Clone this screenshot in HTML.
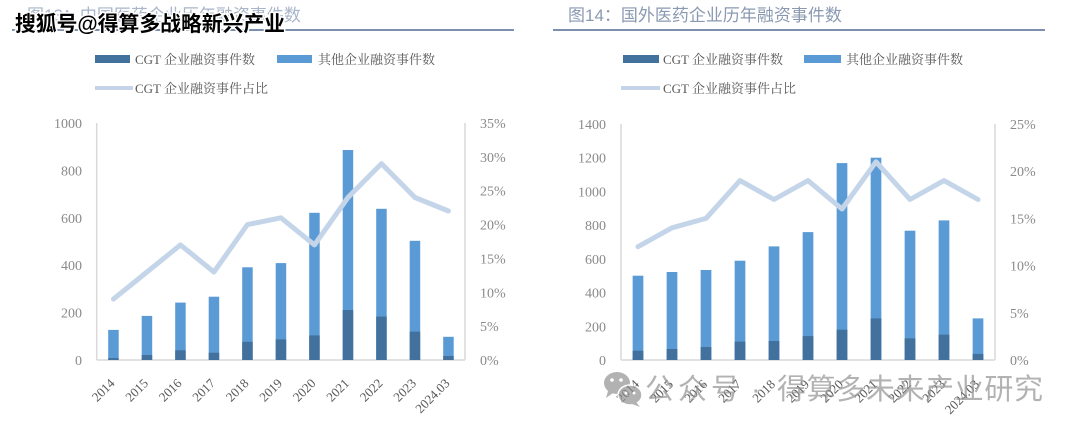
<!DOCTYPE html>
<html>
<head>
<meta charset="utf-8">
<style>
html,body{margin:0;padding:0;background:#fff;}
body{width:1080px;height:431px;overflow:hidden;}
svg{display:block;}
.tick{font-family:"Liberation Serif","Noto Serif CJK SC",serif;font-size:14px;fill:#8a8a8a;}
.xl{font-family:"Liberation Serif","Noto Serif CJK SC",serif;font-size:13px;fill:#595959;}
.lg{font-family:"Liberation Serif","Noto Serif CJK SC",serif;font-size:13px;fill:#595959;}
.ttl{font-family:"Liberation Sans","Noto Sans CJK SC",sans-serif;font-size:17px;fill:#8a99b2;}
</style>
</head>
<body>
<svg width="1080" height="431" viewBox="0 0 1080 431" xmlns="http://www.w3.org/2000/svg">
<rect width="1080" height="431" fill="#fff"/>

<!-- ===== Titles & rules ===== -->
<text class="ttl" x="27" y="21" style="fill:#a9b5c8">图13：中国医药企业历年融资事件数</text>
<line x1="12" y1="30" x2="514" y2="30" stroke="#7d8fae" stroke-width="2"/>
<text class="ttl" x="568" y="21">图14：国外医药企业历年融资事件数</text>
<line x1="553" y1="30" x2="1045" y2="30" stroke="#7d8fae" stroke-width="2"/>

<!-- ===== Left legend ===== -->
<rect x="95" y="55" width="35" height="8" fill="#41719c"/>
<text class="lg" x="135" y="64">CGT 企业融资事件数</text>
<rect x="277" y="55" width="35" height="8" fill="#5b9bd5"/>
<text class="lg" x="318" y="64">其他企业融资事件数</text>
<line x1="95" y1="88" x2="133" y2="88" stroke="#c5d5e9" stroke-width="4"/>
<text class="lg" x="135" y="93">CGT 企业融资事件占比</text>

<!-- ===== Right legend ===== -->
<rect x="623" y="55" width="36" height="8" fill="#41719c"/>
<text class="lg" x="663" y="64">CGT 企业融资事件数</text>
<rect x="804" y="55" width="37" height="8" fill="#5b9bd5"/>
<text class="lg" x="846" y="64">其他企业融资事件数</text>
<line x1="621" y1="88" x2="660" y2="88" stroke="#c5d5e9" stroke-width="4"/>
<text class="lg" x="663" y="93">CGT 企业融资事件占比</text>

<!-- ===== Left chart ===== -->
<g stroke="#d9d9d9" stroke-width="1.5" fill="none">
<line x1="96.7" y1="123" x2="96.7" y2="360"/>
<line x1="465" y1="123" x2="465" y2="360"/>
<line x1="96.7" y1="360" x2="465" y2="360"/>
</g>
<g class="tick" text-anchor="end">
<text x="82" y="365">0</text>
<text x="82" y="317.6">200</text>
<text x="82" y="270.2">400</text>
<text x="82" y="222.8">600</text>
<text x="82" y="175.4">800</text>
<text x="82" y="128">1000</text>
</g>
<g class="tick">
<text x="480" y="365">0%</text>
<text x="480" y="331.1">5%</text>
<text x="480" y="297.3">10%</text>
<text x="480" y="263.4">15%</text>
<text x="480" y="229.6">20%</text>
<text x="480" y="195.7">25%</text>
<text x="480" y="161.9">30%</text>
<text x="480" y="128">35%</text>
</g>
<g fill="#5b9bd5">
<rect x="108.2" y="329.9" width="10.5" height="30.1"/>
<rect x="141.7" y="315.9" width="10.5" height="44.1"/>
<rect x="175.2" y="302.6" width="10.5" height="57.4"/>
<rect x="208.7" y="296.7" width="10.5" height="63.3"/>
<rect x="242.2" y="267.3" width="10.5" height="92.7"/>
<rect x="275.7" y="263.1" width="10.5" height="96.9"/>
<rect x="309.2" y="212.8" width="10.5" height="147.2"/>
<rect x="342.7" y="150.0" width="10.5" height="210.0"/>
<rect x="376.2" y="208.8" width="10.5" height="151.2"/>
<rect x="409.7" y="240.8" width="10.5" height="119.2"/>
<rect x="443.2" y="336.8" width="10.5" height="23.2"/>
</g>
<g fill="#41719c">
<rect x="108.2" y="358.1" width="10.5" height="1.9"/>
<rect x="141.7" y="355.0" width="10.5" height="5.0"/>
<rect x="175.2" y="350.3" width="10.5" height="9.7"/>
<rect x="208.7" y="352.7" width="10.5" height="7.3"/>
<rect x="242.2" y="341.8" width="10.5" height="18.2"/>
<rect x="275.7" y="339.4" width="10.5" height="20.6"/>
<rect x="309.2" y="335.4" width="10.5" height="24.6"/>
<rect x="342.7" y="310.0" width="10.5" height="50.0"/>
<rect x="376.2" y="316.6" width="10.5" height="43.4"/>
<rect x="409.7" y="331.6" width="10.5" height="28.4"/>
<rect x="443.2" y="356.0" width="10.5" height="4.0"/>
</g>
<polyline fill="none" stroke="#c5d5e9" stroke-width="5" stroke-linejoin="round" stroke-linecap="round"
points="113.45,299.1 146.95,272.0 180.45,244.9 213.95,272.0 247.45,224.6 280.95,217.8 314.45,244.9 347.95,197.5 381.45,163.6 414.95,197.5 448.45,211.0"/>
<g class="xl" text-anchor="end">
<text x="115.5" y="384" transform="rotate(-45 115.5 384)">2014</text>
<text x="149" y="384" transform="rotate(-45 149 384)">2015</text>
<text x="182.5" y="384" transform="rotate(-45 182.5 384)">2016</text>
<text x="216" y="384" transform="rotate(-45 216 384)">2017</text>
<text x="249.5" y="384" transform="rotate(-45 249.5 384)">2018</text>
<text x="283" y="384" transform="rotate(-45 283 384)">2019</text>
<text x="316.5" y="384" transform="rotate(-45 316.5 384)">2020</text>
<text x="350" y="384" transform="rotate(-45 350 384)">2021</text>
<text x="383.5" y="384" transform="rotate(-45 383.5 384)">2022</text>
<text x="417" y="384" transform="rotate(-45 417 384)">2023</text>
<text x="450.5" y="384" transform="rotate(-45 450.5 384)">2024.03</text>
</g>

<!-- ===== Right chart ===== -->
<g stroke="#d9d9d9" stroke-width="1.5" fill="none">
<line x1="621" y1="124" x2="621" y2="360"/>
<line x1="995" y1="124" x2="995" y2="360"/>
<line x1="621" y1="360" x2="995" y2="360"/>
</g>
<g class="tick" text-anchor="end">
<text x="606" y="365">0</text>
<text x="606" y="331.3">200</text>
<text x="606" y="297.6">400</text>
<text x="606" y="263.9">600</text>
<text x="606" y="230.1">800</text>
<text x="606" y="196.4">1000</text>
<text x="606" y="162.7">1200</text>
<text x="606" y="129">1400</text>
</g>
<g class="tick">
<text x="1010" y="365">0%</text>
<text x="1010" y="317.8">5%</text>
<text x="1010" y="270.6">10%</text>
<text x="1010" y="223.4">15%</text>
<text x="1010" y="176.2">20%</text>
<text x="1010" y="129">25%</text>
</g>
<g fill="#5b9bd5">
<rect x="632.65" y="275.7" width="10.7" height="84.3"/>
<rect x="666.65" y="272.0" width="10.7" height="88.0"/>
<rect x="700.65" y="270.0" width="10.7" height="90.0"/>
<rect x="734.65" y="260.7" width="10.7" height="99.3"/>
<rect x="768.65" y="246.4" width="10.7" height="113.6"/>
<rect x="802.65" y="232.1" width="10.7" height="127.9"/>
<rect x="836.65" y="163.1" width="10.7" height="196.9"/>
<rect x="870.65" y="157.7" width="10.7" height="202.3"/>
<rect x="904.65" y="230.7" width="10.7" height="129.3"/>
<rect x="938.65" y="220.4" width="10.7" height="139.6"/>
<rect x="972.65" y="318.4" width="10.7" height="41.6"/>
</g>
<g fill="#41719c">
<rect x="632.65" y="350.7" width="10.7" height="9.3"/>
<rect x="666.65" y="349.0" width="10.7" height="11.0"/>
<rect x="700.65" y="347.0" width="10.7" height="13.0"/>
<rect x="734.65" y="341.6" width="10.7" height="18.4"/>
<rect x="768.65" y="341.0" width="10.7" height="19.0"/>
<rect x="802.65" y="336.1" width="10.7" height="23.9"/>
<rect x="836.65" y="329.7" width="10.7" height="30.3"/>
<rect x="870.65" y="318.4" width="10.7" height="41.6"/>
<rect x="904.65" y="338.4" width="10.7" height="21.6"/>
<rect x="938.65" y="334.7" width="10.7" height="25.3"/>
<rect x="972.65" y="353.9" width="10.7" height="6.1"/>
</g>
<polyline fill="none" stroke="#c5d5e9" stroke-width="5" stroke-linejoin="round" stroke-linecap="round"
points="638,246.7 672,227.8 706,218.4 740,180.6 774,199.5 808,180.6 842,209.0 876,161.8 910,199.5 944,180.6 978,199.5"/>
<g class="xl" text-anchor="end">
<text x="640" y="385" transform="rotate(-45 640 385)">2014</text>
<text x="674" y="385" transform="rotate(-45 674 385)">2015</text>
<text x="708" y="385" transform="rotate(-45 708 385)">2016</text>
<text x="742" y="385" transform="rotate(-45 742 385)">2017</text>
<text x="776" y="385" transform="rotate(-45 776 385)">2018</text>
<text x="810" y="385" transform="rotate(-45 810 385)">2019</text>
<text x="844" y="385" transform="rotate(-45 844 385)">2020</text>
<text x="878" y="385" transform="rotate(-45 878 385)">2021</text>
<text x="912" y="385" transform="rotate(-45 912 385)">2022</text>
<text x="946" y="385" transform="rotate(-45 946 385)">2023</text>
<text x="980" y="385" transform="rotate(-45 980 385)">2024.03</text>
</g>

<!-- ===== Watermarks ===== -->
<text x="15" y="31" font-family="'Liberation Sans','Noto Sans CJK SC',sans-serif" font-size="21" font-weight="bold" fill="#000" stroke="#fff" stroke-width="3" paint-order="stroke" stroke-linejoin="round" textLength="270" lengthAdjust="spacingAndGlyphs">搜狐号@得算多战略新兴产业</text>

<g opacity="0.68">
<ellipse cx="617" cy="383" rx="13" ry="11" fill="#8f8f8f"/>
<path d="M608 391 L606 398 L613 393 Z" fill="#8f8f8f"/>
<ellipse cx="630" cy="395" rx="12" ry="10" fill="#8f8f8f" stroke="#fff" stroke-width="1.5"/>
<path d="M636 402 L640 407 L632 404 Z" fill="#8f8f8f"/>
<circle cx="612" cy="380" r="1.8" fill="#fff"/>
<circle cx="621" cy="380" r="1.8" fill="#fff"/>
<circle cx="626" cy="393" r="1.5" fill="#fff"/>
<circle cx="634" cy="393" r="1.5" fill="#fff"/>
<g font-family="'Liberation Sans','Noto Sans CJK SC',sans-serif" font-size="29" fill="#8f8f8f">
<text x="645" y="399" textLength="95" lengthAdjust="spacing">公众号</text>
<text x="751" y="399">·</text>
<text x="777" y="399" textLength="266" lengthAdjust="spacing">得算多未来产业研究</text>
</g>
</g>
</svg>
</body>
</html>
